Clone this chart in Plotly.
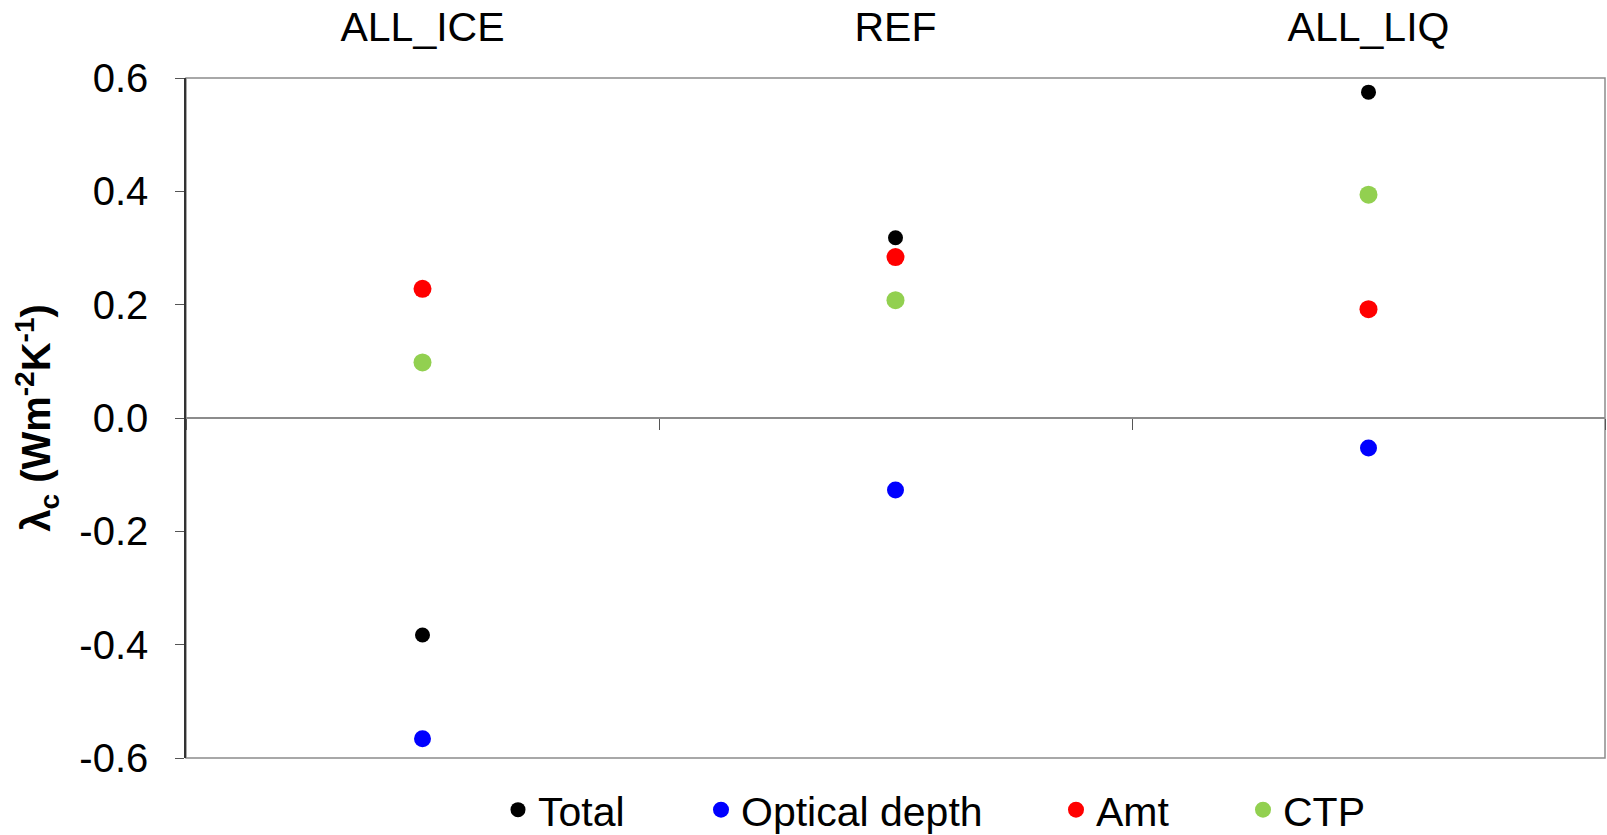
import plotly.graph_objects as go

categories = ["ALL_ICE", "REF", "ALL_LIQ"]
total = [-0.383, 0.318, 0.575]
optical_depth = [-0.566, -0.127, -0.053]
amt = [0.228, 0.284, 0.192]
ctp = [0.098, 0.208, 0.394]

y_tickvals = [-0.6, -0.4, -0.2, 0.0, 0.2, 0.4, 0.6]
y_ticktext = ["-0.6", "-0.4", "-0.2", "0.0", "0.2", "0.4", "0.6"]

series = [
    ("Total", total, "#000000", 15, "legend"),
    ("Optical depth", optical_depth, "#0000FF", 17, "legend2"),
    ("Amt", amt, "#FF0000", 18, "legend3"),
    ("CTP", ctp, "#92D050", 18, "legend4"),
]

FONT = "Liberation Sans, Arial, sans-serif"
W, H = 1607, 835
ML, MR, MT, MB = 186, 2, 78, 77
PW = W - ML - MR
PH = H - MT - MB

fig = go.Figure()
for name, vals, color, size, lg in series:
    fig.add_trace(go.Scatter(
        x=categories, y=vals, mode="markers", name=name,
        marker=dict(color=color, size=size, line=dict(width=0)),
        legend=lg,
    ))

# hidden trace to carry the boundary-tick axis along the zero line
fig.add_trace(go.Scatter(x=categories, y=[None] * len(categories), xaxis="x2",
                         mode="markers", showlegend=False, hoverinfo="skip"))

def legend_at(marker_x):
    return dict(
        x=(marker_x - 20 - ML) / PW, y=-(810 - (H - MB)) / PH,
        xanchor="left", yanchor="middle", orientation="h",
        font=dict(family=FONT, size=41, color="#000000"),
        bgcolor="rgba(0,0,0,0)", borderwidth=0,
    )

fig.update_layout(
    width=W, height=H,
    margin=dict(l=ML, r=MR, t=MT, b=MB, autoexpand=False),
    paper_bgcolor="white", plot_bgcolor="white",
    font=dict(family=FONT, size=40, color="#000000"),
    xaxis=dict(
        type="category", categoryorder="array", categoryarray=categories,
        range=[-0.5, 2.5], side="top", showgrid=False, zeroline=False,
        showline=False, ticks="", ticklabelstandoff=28,
        tickfont=dict(family=FONT, size=41, color="#000000"),
    ),
    xaxis2=dict(
        type="category", categoryorder="array", categoryarray=categories,
        range=[-0.5, 2.5], overlaying="x", anchor="free", position=0.5,
        tickson="boundaries", ticks="outside", ticklen=11, tickwidth=1.2,
        tickcolor="#555555", showticklabels=False, showgrid=False,
        showline=False, zeroline=False,
    ),
    yaxis=dict(
        range=[-0.6, 0.6], tickvals=y_tickvals, ticktext=y_ticktext,
        ticks="outside", ticklen=9, tickwidth=1.2, tickcolor="#555555",
        showline=True, linecolor="#333333", linewidth=1.5,
        showgrid=False, zeroline=True, zerolinecolor="#8c8c8c", zerolinewidth=2,
        ticklabelstandoff=19,
        tickfont=dict(family=FONT, size=40, color="#000000"),
        title=dict(text="<b>λ<sub>c</sub> (Wm<sup>-2</sup>K<sup>-1</sup>)</b>",
                   font=dict(family=FONT, size=40, color="#000000"), standoff=16),
    ),
    shapes=[dict(type="rect", xref="paper", yref="paper", x0=0, x1=1, y0=0, y1=1,
                 line=dict(color="#8c8c8c", width=1.5), layer="below")],
    legend=legend_at(518),
    legend2=legend_at(721),
    legend3=legend_at(1076),
    legend4=legend_at(1263),
)

fig.write_html("out.html")
